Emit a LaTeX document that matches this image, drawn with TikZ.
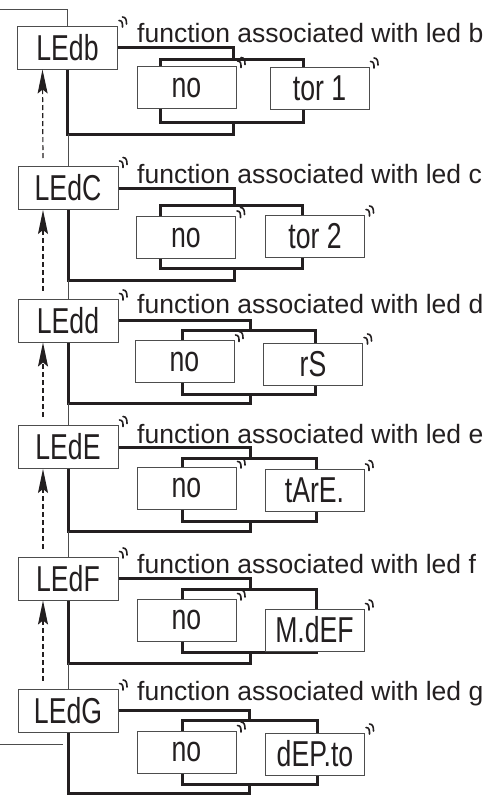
\documentclass[tikz,border=0pt]{standalone}
\usepackage{fontspec}
\setmainfont{Liberation Sans}
\newfontfamily\lcdfont[FakeStretch=0.74]{Liberation Sans}
\usetikzlibrary{arrows.meta}

\definecolor{ink}{HTML}{231F20}
\definecolor{rim}{HTML}{4D4D4D}

\tikzset{
  wire/.style={draw=ink, line width=3pt},
  lead/.style={draw=rim, line width=1pt},
  back/.style={draw=ink, line width=1.2pt, dash pattern=on 5pt off 3pt,
    -{Stealth[length=24pt, width=10pt, inset=4pt]}, shorten <=8pt},
  ledbox/.style={draw=rim, line width=1pt, fill=white, text=ink,
    minimum width=100pt, minimum height=43pt, inner sep=0pt,
    font=\lcdfont\fontsize{36}{36}\selectfont},
  optbox/.style={ledbox, minimum width=99pt, minimum height=42pt},
  caption/.style={anchor=base west, inner sep=0pt, text=ink,
    font=\fontsize{26.5}{30}\selectfont}
}

% two small strokes at the corner of a blinking display
\newcommand\blinkmark[1]{%
  \draw[ink, line width=1.6pt, line cap=round]
    ([shift={(1,-5)}]#1) .. controls +(3.5,0) and +(0,-3.5) .. ([shift={(4.5,1.5)}]#1)
    ([shift={(4.5,-8.5)}]#1) .. controls +(3.5,0) and +(0,-3.5) .. ([shift={(8.5,-1.5)}]#1);}

\begin{document}
\begin{tikzpicture}[x=1pt, y=-1pt]
  \useasboundingbox (0,0) rectangle (493,795);

  % led b
  \draw[wire] (160,59) rectangle (303,122);
  \coordinate (bt) at (233,59);
  \coordinate (bb) at (233,122);
  \coordinate (bl) at (233,134);
  \node (ledb) [ledbox] at (67.5,47.5) {LEdb};
  \node (fnb) [caption] at (137,42) {function associated with led b};
  \node (nob) [optbox] at (186.5,87.5) {no};
  \node (torb) [optbox] at (319.5,88) {tor 1};

  % led c
  \draw[wire] (160,205) rectangle (302,268);
  \coordinate (ct) at (234,205);
  \coordinate (cb) at (234,268);
  \coordinate (cl) at (234,280);
  \node (ledc) [ledbox] at (68,188) {LEdC};
  \node (fnc) [caption] at (137,183) {function associated with led c};
  \node (noc) [optbox] at (186,237.5) {no};
  \node (torc) [optbox] at (315,236) {tor 2};

  % led d
  \draw[wire] (182,330) rectangle (315,394);
  \coordinate (dt) at (250,330);
  \coordinate (db) at (250,394);
  \coordinate (dl) at (250,403);
  \node (ledd) [ledbox] at (68,320.5) {LEdd};
  \node (fnd) [caption] at (137,313) {function associated with led d};
  \node (nod) [optbox] at (184.5,361.5) {no};
  \node (rsd) [optbox] at (313,364) {rS};

  % led e
  \draw[wire] (182,458) rectangle (316,521);
  \coordinate (et) at (250,458);
  \coordinate (eb) at (250,521);
  \coordinate (el) at (250,531);
  \node (lede) [ledbox] at (68,447) {LEdE};
  \node (fne) [caption] at (137,443) {function associated with led e};
  \node (noe) [optbox] at (186.5,488) {no};
  \node (tare) [optbox] at (314.5,490.5) {tArE.};

  % led f
  \draw[wire] (182,589) rectangle (316,652);
  \coordinate (ft) at (250,589);
  \coordinate (fb) at (250,652);
  \coordinate (fl) at (250,663);
  \node (ledf) [ledbox] at (68,578.5) {LEdF};
  \node (fnf) [caption] at (137,573) {function associated with led f};
  \node (nof) [optbox] at (186.5,620) {no};
  \node (mdef) [optbox] at (314.5,630) {M.dEF};

  % led g
  \draw[wire] (182,720) rectangle (317,784);
  \coordinate (gt) at (249,720);
  \coordinate (gb) at (249,784);
  \coordinate (gl) at (249,793);
  \node (ledg) [ledbox] at (68,710.5) {LEdG};
  \node (fng) [caption] at (137,700) {function associated with led g};
  \node (nog) [optbox] at (186.5,752) {no};
  \node (dept) [optbox] at (315,754) {dEP.to};

  % loops round the choices
  \draw[wire] (ledb.east) -| (bt);
  \draw[wire] (ledb.south) |- (bl) -- (bb);
  \draw[wire] (ledc.east) -| (ct);
  \draw[wire] (ledc.south) |- (cl) -- (cb);
  \draw[wire] (ledd.east) -| (dt);
  \draw[wire] (ledd.south) |- (dl) -- (db);
  \draw[wire] (lede.east) -| (et);
  \draw[wire] (lede.south) |- (el) -- (eb);
  \draw[wire] (ledf.east) -| (ft);
  \draw[wire] (ledf.south) |- (fl) -- (fb);
  \draw[wire] (ledg.east) -| (gt);
  \draw[wire] (ledg.south) |- (gl) -- (gb);

  % main sequence
  \coordinate (entry) at (0,9);
  \coordinate (exit) at (0,744);
  \coordinate (exitend) at (63,744);
  \draw[lead] (entry) -| (ledb.north);
  \draw[lead] (ledc.north) -- (ledc.north |- bl);
  \draw[lead] (ledd.north) -- (ledd.north |- cl);
  \draw[lead] (lede.north) -- (lede.north |- dl);
  \draw[lead] (ledf.north) -- (ledf.north |- el);
  \draw[lead] (ledg.north) -- (ledg.north |- fl);
  \draw[lead] (exit) -- (exitend);

  % going back
  \draw[back] ([xshift=-25pt]ledc.north) -- ([xshift=-25pt]ledb.south);
  \draw[back] ([xshift=-25pt]ledd.north) -- ([xshift=-25pt]ledc.south);
  \draw[back] ([xshift=-25pt]lede.north) -- ([xshift=-25pt]ledd.south);
  \draw[back] ([xshift=-25pt]ledf.north) -- ([xshift=-25pt]lede.south);
  \draw[back] ([xshift=-25pt]ledg.north) -- ([xshift=-25pt]ledf.south);

  % blinking marks
  \blinkmark{ledb.north east} \blinkmark{nob.north east} \blinkmark{torb.north east}
  \blinkmark{ledc.north east} \blinkmark{noc.north east} \blinkmark{torc.north east}
  \blinkmark{ledd.north east} \blinkmark{nod.north east} \blinkmark{rsd.north east}
  \blinkmark{lede.north east} \blinkmark{noe.north east} \blinkmark{tare.north east}
  \blinkmark{ledf.north east} \blinkmark{nof.north east} \blinkmark{mdef.north east}
  \blinkmark{ledg.north east} \blinkmark{nog.north east} \blinkmark{dept.north east}
\end{tikzpicture}
\end{document}
